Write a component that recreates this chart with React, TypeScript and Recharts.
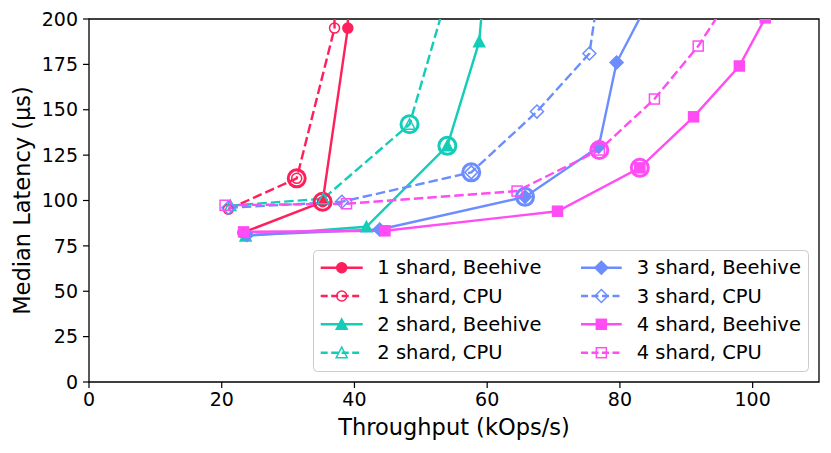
import React from "react";
import { LineChart, Line, XAxis, YAxis, ReferenceArea, Legend, Label } from "recharts";

const RED = "#ff1f5b";
const TEAL = "#14cdb8";
const BLUE = "#6b8dff";
const PINK = "#ff4cf4";

const xTicks = [0, 20, 40, 60, 80, 100];
const yTicks = [0, 25, 50, 75, 100, 125, 150, 175, 200];

// throughput (kOps/s) / median latency (us) per config
const shard1BeehiveX = [23.2, 35.2, 39.0, 39.2];
const shard1BeehiveY = [82.3, 99.3, 195, 300];
const shard1CpuX = [21.0, 31.3, 37.0, 36.7];
const shard1CpuY = [95.2, 112.2, 195, 300];
const shard2BeehiveX = [23.6, 41.8, 54.0, 58.8, 60.5];
const shard2BeehiveY = [80.5, 85.5, 130.1, 187.5, 260];
const shard2CpuX = [21.3, 35.3, 48.3, 54.5];
const shard2CpuY = [97.2, 101, 142, 220];
const shard3BeehiveX = [23.8, 43.8, 65.7, 76.8, 79.5, 85.5];
const shard3BeehiveY = [81, 84, 102, 129.6, 176, 218];
const shard3CpuX = [21.0, 38.1, 57.6, 67.5, 75.4, 77.6];
const shard3CpuY = [96, 99.3, 115.5, 149, 181, 235];
const shard4BeehiveX = [23.3, 44.6, 70.6, 83.0, 91.1, 98.0, 101.9];
const shard4BeehiveY = [82.7, 83.3, 94.1, 118, 146.1, 174.1, 200.6];
const shard4CpuX = [20.5, 38.8, 64.5, 76.9, 85.2, 91.8, 96.6];
const shard4CpuY = [97.4, 98.2, 105.2, 127.8, 155.9, 185.1, 212];

// index of the circled point
const kneeIdx = [1, 1, 2, 2, 2, 2, 3, 3];

type Shape = "circle" | "triangle" | "diamond" | "square";

const toPts = (xs: number[], ys: number[]) => xs.map((x, i) => ({ x, y: ys[i] }));

const series = [
  { name: "1 shard, Beehive", data: toPts(shard1BeehiveX, shard1BeehiveY), color: RED, dashed: false, shape: "circle" as Shape, filled: true },
  { name: "1 shard, CPU", data: toPts(shard1CpuX, shard1CpuY), color: RED, dashed: true, shape: "circle" as Shape, filled: false },
  { name: "2 shard, Beehive", data: toPts(shard2BeehiveX, shard2BeehiveY), color: TEAL, dashed: false, shape: "triangle" as Shape, filled: true },
  { name: "2 shard, CPU", data: toPts(shard2CpuX, shard2CpuY), color: TEAL, dashed: true, shape: "triangle" as Shape, filled: false },
  { name: "3 shard, Beehive", data: toPts(shard3BeehiveX, shard3BeehiveY), color: BLUE, dashed: false, shape: "diamond" as Shape, filled: true },
  { name: "3 shard, CPU", data: toPts(shard3CpuX, shard3CpuY), color: BLUE, dashed: true, shape: "diamond" as Shape, filled: false },
  { name: "4 shard, Beehive", data: toPts(shard4BeehiveX, shard4BeehiveY), color: PINK, dashed: false, shape: "square" as Shape, filled: true },
  { name: "4 shard, CPU", data: toPts(shard4CpuX, shard4CpuY), color: PINK, dashed: true, shape: "square" as Shape, filled: false },
];

const FONT = "DejaVu Sans, Verdana, sans-serif";
const DASH = "9.5 4";
const LW = 2.4;

function Marker({ shape, cx, cy, color, filled }: { shape: Shape; cx: number; cy: number; color: string; filled: boolean }) {
  const fill = filled ? color : "none";
  const sw = 1.5;
  if (shape === "circle") return <circle cx={cx} cy={cy} r={5} fill={fill} stroke={color} strokeWidth={sw} />;
  if (shape === "triangle")
    return <polygon points={`${cx},${cy - 5.5} ${cx - 5.5},${cy + 5} ${cx + 5.5},${cy + 5}`} fill={fill} stroke={color} strokeWidth={sw} />;
  if (shape === "diamond")
    return <polygon points={`${cx},${cy - 6.5} ${cx + 6.5},${cy} ${cx},${cy + 6.5} ${cx - 6.5},${cy}`} fill={fill} stroke={color} strokeWidth={sw} />;
  return <rect x={cx - 5} y={cy - 5} width={10} height={10} fill={fill} stroke={color} strokeWidth={sw} />;
}

function makeDot(s: (typeof series)[number], knee: number) {
  return (props: any) => {
    const { cx, cy, index } = props;
    const key = `${s.name}-${index}`;
    if (cx == null || cy == null) return <g key={key} />;
    return (
      <g key={key}>
        <Marker shape={s.shape} cx={cx} cy={cy} color={s.color} filled={s.filled} />
        {index === knee && <circle cx={cx} cy={cy} r={8.5} fill="none" stroke={s.color} strokeWidth={3} />}
      </g>
    );
  };
}

function LegendBox() {
  const rows = [17.7, 46, 74.3, 102.7];
  const cols = [
    { x1: 7.7, x2: 49.7, tx: 64.3 },
    { x1: 268, x2: 308.7, tx: 323.7 },
  ];
  return (
    <svg width={497} height={123} style={{ display: "block" }}>
      <rect x={0.5} y={0.5} width={495} height={121} rx={4} fill="#fff" fillOpacity={0.8} stroke="#cccccc" strokeWidth={1} />
      {series.map((s, i) => {
        const c = cols[Math.floor(i / 4)];
        const y = rows[i % 4];
        const mx = (c.x1 + c.x2) / 2;
        return (
          <g key={s.name}>
            <line x1={c.x1} x2={c.x2} y1={y} y2={y} stroke={s.color} strokeWidth={LW} strokeDasharray={s.dashed ? "7 3.5" : undefined} />
            <Marker shape={s.shape} cx={mx} cy={y} color={s.color} filled={s.filled} />
            <text x={c.tx} y={y} dominantBaseline="central" fontSize={19.5} fontFamily={FONT} fill="#000">
              {s.name}
            </text>
          </g>
        );
      })}
    </svg>
  );
}

export default function App() {
  return (
    <div style={{ position: "absolute", left: 0, top: 0, width: 831, height: 453, background: "#fff" }}>
      <LineChart width={831} height={453} margin={{ top: 19, right: 12, bottom: 31, left: 29 }}>
        <XAxis
          type="number"
          dataKey="x"
          domain={[0, 110]}
          ticks={xTicks}
          allowDataOverflow
          axisLine={false}
          tickLine={{ stroke: "#000", strokeWidth: 1.2 }}
          tickSize={6}
          tickMargin={5}
          height={40}
          tick={{ fill: "#000", fontSize: 19, fontFamily: FONT }}
        >
          <Label
            content={(p: any) => (
              <text x={p.viewBox.x + p.viewBox.width / 2} y={435} textAnchor="middle" fontSize={22.5} fontFamily={FONT} fill="#000">
                Throughput (kOps/s)
              </text>
            )}
          />
        </XAxis>
        <YAxis
          type="number"
          dataKey="y"
          domain={[0, 200]}
          ticks={yTicks}
          allowDataOverflow
          axisLine={false}
          tickLine={{ stroke: "#000", strokeWidth: 1.2 }}
          tickSize={6}
          tickMargin={5}
          width={60}
          tick={{ fill: "#000", fontSize: 19, fontFamily: FONT }}
        >
          <Label
            content={(p: any) => {
              const cy = p.viewBox.y + p.viewBox.height / 2;
              return (
                <text x={30} y={cy} transform={`rotate(-90, 30, ${cy})`} textAnchor="middle" fontSize={22.5} fontFamily={FONT} fill="#000">
                  Median Latency (µs)
                </text>
              );
            }}
          />
        </YAxis>
        {series.map((s, i) => (
          <Line
            key={s.name}
            name={s.name}
            data={s.data}
            dataKey="y"
            type="linear"
            stroke={s.color}
            strokeWidth={LW}
            strokeDasharray={s.dashed ? DASH : undefined}
            dot={makeDot(s, kneeIdx[i])}
            activeDot={false}
            isAnimationActive={false}
          />
        ))}
        <ReferenceArea x1={0} x2={110} y1={0} y2={200} fill="none" stroke="#000" strokeWidth={1.3} />
        <Legend
          layout="horizontal"
          verticalAlign="middle"
          align="center"
          content={() => <LegendBox />}
          wrapperStyle={{ position: "absolute", left: 313, top: 250, width: 497, height: 123 }}
        />
      </LineChart>
    </div>
  );
}
